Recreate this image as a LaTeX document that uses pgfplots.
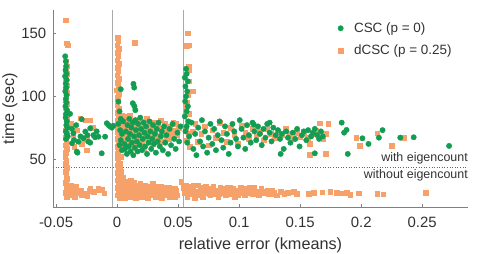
\documentclass[border=0pt]{standalone}
\usepackage{pgfplots}
\pgfplotsset{compat=1.18}
\usepackage{fontspec}
\setmainfont{Liberation Sans}
\definecolor{cscgreen}{RGB}{18,158,82}
\definecolor{dcscorange}{RGB}{246,161,105}
\definecolor{axgray}{RGB}{128,128,128}
\definecolor{txt}{RGB}{50,50,50}
\begin{document}
\begin{tikzpicture}
\begin{axis}[name=ax,
  scale only axis, width=415bp, height=197bp,
  xmin=-0.0525, xmax=0.2875, ymin=11.6, ymax=169,
  axis lines*=left,
  axis line style={axgray, line width=0.8bp},
  every tick/.style={axgray, line width=0.8bp},
  major tick length=3bp,
  tick align=inside,
  xtick={-0.05,0,0.05,0.1,0.15,0.2,0.25},
  ytick={50,100,150},
  scaled x ticks=false,
  /pgf/number format/assume math mode=true,
  xticklabel style={/pgf/number format/fixed, /pgf/number format/precision=2, anchor=base, yshift=-20bp, inner sep=0pt, font=\fontsize{15}{18}\selectfont, text=txt},
  yticklabel style={anchor=east, inner sep=0pt, xshift=-6.5bp, font=\fontsize{15}{18}\selectfont, text=txt},
  xlabel={relative error (kmeans)},
  ylabel={time (sec)},
  xlabel style={at={(rel axis cs:0.5,0)}, anchor=center, yshift=-38bp, font=\fontsize{16.3}{19}\selectfont, text=txt},
  ylabel style={at={(rel axis cs:0,0.5)}, anchor=center, yshift=43bp, font=\fontsize{16.3}{19}\selectfont, text=txt},
  legend style={at={(rel axis cs:0.679,0.957)}, anchor=north west, draw=none, fill=none, font=\fontsize{13.5}{16}\selectfont, text=txt, row sep=7bp, /tikz/every odd column/.append style={column sep=8.7bp}},
  legend cell align=left,
]
\addlegendimage{only marks, mark=*, mark size=2.7bp, cscgreen, mark options={draw=cscgreen, fill=cscgreen}}
\addlegendentry{CSC (p = 0)}
\addlegendimage{only marks, mark=square*, mark size=2.3bp, dcscorange, mark options={draw=dcscorange, fill=dcscorange}}
\addlegendentry{dCSC (p = 0.25)}

\addplot[forget plot, color={rgb,255:red,170;green,170;blue,170}, line width=0.9bp] coordinates {(-0.0035,11.6) (-0.0035,169)};
\addplot[forget plot, color={rgb,255:red,170;green,170;blue,170}, line width=0.9bp] coordinates {(0.054,11.6) (0.054,169)};
\addplot[forget plot, dotted, color=black!60, line width=0.6bp] coordinates {(-0.0525,43) (0.2875,43)};

% dCSC (p = 0.25)
\addplot[forget plot, only marks, mark=square*, mark size=2.3bp, color=dcscorange, mark options={draw=dcscorange, fill=dcscorange}] table {
x y
-0.0420 160.7
-0.0413 142.5
-0.0407 141
-0.0418 128
-0.0415 124
-0.0422 121
-0.0412 118
-0.0418 115
-0.0424 112
-0.0414 109
-0.0420 106
-0.0411 103
-0.0418 100
-0.0423 97
-0.0413 94
-0.0419 91
-0.0409 88
-0.0421 85
-0.0415 82
-0.0408 79
-0.0418 76
-0.0424 73
-0.0412 70
-0.0420 67
-0.0416 64
-0.0422 61
-0.0413 58
-0.0419 55
-0.0424 52
-0.0416 49
-0.0420 46
-0.0414 43
-0.0422 40
-0.0418 37
-0.0415 34
-0.0421 31
-0.0413 29
-0.0418 27
-0.0410 25
-0.0420 23
-0.0405 21
-0.0415 20
-0.0400 28
-0.0395 23
-0.0390 26
-0.0385 21
-0.0380 29
-0.0375 24
-0.0368 27
-0.0362 22
-0.0355 25
-0.0348 20
-0.0340 28
-0.0332 23
-0.0325 22.7
-0.0310 25
-0.0300 25
-0.0290 21
-0.0260 22.5
-0.0260 21.2
-0.0245 20.5
-0.0227 24.6
-0.0220 26.5
-0.0194 24
-0.0155 26.5
-0.0148 25.2
-0.0125 25.7
-0.0107 22.5
-0.0303 82.5
-0.0260 81
-0.0220 81
-0.0330 73
-0.0248 67
-0.0290 62
-0.0270 65
-0.0248 57
-0.0380 78
-0.0360 68
-0.0200 75
-0.0350 60
0.0005 147
0.0010 144
0.0000 141
0.0015 138
0.0005 135
0.0010 132
0.0000 129
0.0012 126
0.0004 123
0.0008 120
0.0000 117
0.0015 114
0.0005 111
0.0010 108
-0.0005 105
0.0012 102
0.0003 99
0.0008 96
0.0000 93
0.0015 90
0.0005 87
0.0010 84
0.0002 81
0.0012 78
0.0006 75
0.0000 72
0.0014 69
0.0004 66
0.0010 63
0.0002 60
0.0012 57
0.0006 54
0.0000 51
0.0010 48
0.0004 45
0.0014 42
0.0002 39
0.0010 36
0.0005 33
0.0015 30
0.0000 27
0.0010 24
0.0005 21
0.0020 19
0.0025 46
0.0030 40
0.0035 34
0.0040 30
0.0030 29
0.0045 32
0.0055 28
0.0065 30
0.0028 52
0.0032 60
0.0040 85
0.0050 83
0.0020 36
0.0025 33
0.0035 38
0.0022 42
0.0030 24
0.0040 20
0.0045 27
0.0055 22
0.0060 25
0.0068 19
0.0072 28
0.0080 23
0.0088 26
0.0095 21
0.0100 29
0.0108 24
0.0115 20
0.0122 27
0.0130 22
0.0138 31
0.0145 25
0.0152 19
0.0160 28
0.0168 23
0.0175 26
0.0182 21
0.0190 30
0.0198 24
0.0205 27
0.0212 20
0.0220 25
0.0228 29
0.0236 22
0.0245 26
0.0252 19
0.0260 24
0.0268 28
0.0276 21
0.0285 25
0.0293 30
0.0300 23
0.0310 27
0.0318 20
0.0326 24
0.0335 28
0.0345 22
0.0355 26
0.0365 19
0.0375 24
0.0385 21
0.0395 27
0.0405 23
0.0418 25
0.0430 20
0.0445 24
0.0460 22
0.0475 26
0.0490 21
0.0110 33
0.0070 32
0.0050 35
0.0035 27
0.0048 23
0.0058 30
0.0063 21
0.0076 25
0.0084 29
0.0092 24
0.0103 20
0.0112 27
0.0119 23
0.0126 30
0.0134 26
0.0141 21
0.0149 28
0.0156 23
0.0164 25
0.0171 20
0.0179 29
0.0186 26
0.0194 22
0.0201 28
0.0216 24
0.0224 21
0.0232 27
0.0241 23
0.0256 28
0.0264 22
0.0272 26
0.0281 23
0.0297 27
0.0305 21
0.0314 25
0.0330 22
0.0340 26
0.0350 23
0.0360 28
0.0370 22
0.0390 25
0.0410 21
0.0425 27
0.0440 22
0.0455 26
0.0470 20
0.0485 25
0.0040 78
0.0050 70
0.0060 82
0.0068 66
0.0075 74
0.0082 61
0.0090 79
0.0098 70
0.0105 85
0.0112 64
0.0120 76
0.0128 68
0.0135 59
0.0142 81
0.0150 72
0.0158 66
0.0165 78
0.0172 62
0.0180 74
0.0188 69
0.0195 80
0.0202 64
0.0210 73
0.0218 58
0.0226 76
0.0234 68
0.0242 82
0.0250 71
0.0260 65
0.0270 77
0.0280 70
0.0290 62
0.0300 79
0.0312 73
0.0322 67
0.0333 75
0.0345 69
0.0356 81
0.0368 64
0.0380 73
0.0392 78
0.0405 67
0.0418 72
0.0432 76
0.0446 68
0.0460 79
0.0475 73
0.0490 69
0.0505 75
0.0035 74
0.0045 66
0.0055 77
0.0062 70
0.0070 84
0.0078 68
0.0086 73
0.0094 65
0.0102 76
0.0110 71
0.0117 80
0.0125 63
0.0132 73
0.0140 67
0.0148 77
0.0155 62
0.0162 71
0.0170 68
0.0178 79
0.0185 64
0.0193 72
0.0200 69
0.0208 77
0.0215 66
0.0230 72
0.0246 67
0.0265 73
0.0285 68
0.0305 71
0.0325 64
0.0350 74
0.0375 69
0.0400 75
0.0425 66
0.0450 72
0.0480 78
0.0142 143
0.0577 150.5
0.0570 140.7
0.0590 141
0.0585 124
0.0590 121
0.0585 112
0.0620 104
0.0580 101
0.0570 95
0.0560 90
0.0590 86
0.0575 80
0.0565 75
0.0585 70
0.0570 65
0.0595 60
0.0525 32
0.0545 27
0.0555 23
0.0565 29
0.0575 20
0.0590 25
0.0600 28
0.0612 22
0.0625 26
0.0638 19
0.0650 24
0.0662 29
0.0675 22
0.0688 26
0.0700 20
0.0712 25
0.0725 28
0.0738 23
0.0750 26
0.0762 21
0.0775 24
0.0788 28
0.0800 22
0.0815 25
0.0830 20
0.0845 27
0.0860 23
0.0875 25
0.0890 21
0.0905 27
0.0920 24
0.0935 22
0.0950 26
0.0965 20
0.0980 25
0.1000 23
0.1015 27
0.1030 24
0.1045 21
0.1060 26
0.1075 23
0.1090 25
0.1110 22
0.1125 27
0.1140 24
0.1160 21
0.1180 26
0.1200 23
0.1215 24
0.1240 22
0.1265 25
0.1285 23
0.1310 21
0.1340 24
0.1370 22
0.1400 23
0.1445 24
0.1470 22
0.1570 22
0.1610 23
0.1680 23.5
0.1746 24
0.1800 23
0.1830 22.5
0.1880 23
0.1910 21.5
0.1980 22.5
0.2130 22
0.2180 21.8
0.2530 23
0.0560 26
0.0583 22
0.0605 25
0.0630 29
0.0656 21
0.0680 27
0.0705 23
0.0730 25
0.0755 22
0.0782 26
0.0808 24
0.0838 22
0.0868 26
0.0898 23
0.0928 27
0.0958 23
0.0990 21
0.1022 25
0.1052 23
0.1083 27
0.1118 24
0.1150 22
0.1190 24
0.1230 25
0.1275 22
0.0620 72
0.0640 78
0.0660 64
0.0690 70
0.0720 76
0.0750 61
0.0780 73
0.0810 67
0.0840 79
0.0870 71
0.0900 64
0.0930 75
0.0960 69
0.0990 62
0.1020 77
0.1050 71
0.1080 66
0.1110 74
0.1140 68
0.1170 72
0.1200 65
0.1230 74
0.1260 70
0.1290 67
0.1320 72
0.1350 69
0.1380 74
0.1410 70
0.1440 66
0.1470 71
0.1500 68
0.1530 72
0.1560 67
0.1580 62
0.1600 70
0.1630 73
0.1660 78.5
0.1690 66
0.1730 78
0.1710 70
0.1580 53.2
0.1710 54
0.1960 67
0.1990 60.4
0.2130 70.5
0.2250 60.7
0.2350 67
};

% CSC (p = 0)
\addplot[forget plot, only marks, mark=*, mark size=2.7bp, color=cscgreen, mark options={draw=cscgreen, fill=cscgreen}] table {
x y
-0.0425 132
-0.0420 128
-0.0418 124
-0.0422 121
-0.0415 118
-0.0426 116
-0.0412 113
-0.0420 110
-0.0417 107
-0.0424 104
-0.0414 101
-0.0420 98
-0.0416 95
-0.0423 92
-0.0410 89
-0.0418 86
-0.0421 83
-0.0412 80
-0.0416 77
-0.0407 75
-0.0420 72
-0.0413 70
-0.0404 68
-0.0418 66
-0.0385 86
-0.0370 74
-0.0352 65
-0.0370 62.5
-0.0358 70.5
-0.0330 55.8
-0.0325 55
-0.0317 63.8
-0.0290 81.7
-0.0276 66.5
-0.0260 71.9
-0.0243 69
-0.0235 63.8
-0.0220 74.5
-0.0220 63
-0.0194 69
-0.0180 67.3
-0.0167 72
-0.0153 67.8
-0.0126 54.5
-0.0098 67.8
-0.0084 78.5
-0.0070 77
-0.0057 76
-0.0043 75
-0.0030 76.5
-0.0335 77
-0.0300 68
0.0010 95.8
0.0030 105.7
0.0020 88
0.0030 82
0.0010 78
0.0025 73
0.0040 70
0.0030 65
0.0020 61
0.0040 57
0.0134 110
0.0140 107
0.0129 94.5
0.0142 92
0.0150 89
0.0050 80
0.0060 62
0.0065 58
0.0072 72
0.0080 54
0.0085 77
0.0090 66
0.0095 60
0.0100 82
0.0105 70
0.0110 56
0.0118 75
0.0122 63
0.0128 79
0.0133 53
0.0140 68
0.0146 59
0.0150 81
0.0155 73
0.0162 64
0.0168 56
0.0172 78
0.0180 69
0.0186 61
0.0190 83
0.0196 74
0.0204 57
0.0210 66
0.0218 79
0.0224 71
0.0230 60
0.0238 76
0.0245 54
0.0250 68
0.0258 63
0.0265 80
0.0272 72
0.0280 58
0.0288 66
0.0295 77
0.0302 62
0.0310 70
0.0318 55
0.0325 74
0.0332 64
0.0340 79
0.0350 60
0.0358 68
0.0366 72
0.0375 57
0.0385 76
0.0395 63
0.0405 69
0.0418 54
0.0430 74
0.0442 61
0.0455 78
0.0468 66
0.0480 58
0.0495 71
0.0508 64
0.0520 76
0.0565 122
0.0570 118
0.0555 115
0.0580 112
0.0560 108
0.0575 104
0.0565 100
0.0558 96
0.0580 92
0.0570 88
0.0555 84
0.0585 80
0.0570 76
0.0560 72
0.0590 68
0.0575 63
0.0610 79
0.0625 58
0.0640 70
0.0650 53
0.0665 75
0.0680 64
0.0695 81
0.0705 60
0.0720 72
0.0738 55
0.0750 67
0.0765 78
0.0780 62
0.0795 74
0.0810 57
0.0825 69
0.0840 80
0.0855 65
0.0870 59
0.0885 76
0.0900 70
0.0915 54
0.0930 63
0.0945 78
0.0960 72
0.0975 66
0.0990 60
0.1005 81
0.1020 74
0.1035 67
0.1050 58
0.1065 77
0.1080 69
0.1095 63
0.1110 79
0.1125 72
0.1140 65
0.1155 76
0.1170 70
0.1185 61
0.1200 74
0.1215 67
0.1230 78
0.1250 71
0.1265 64
0.1280 75
0.1300 69
0.1318 73
0.1335 66
0.1350 70
0.1365 58
0.1385 72
0.1400 67
0.1420 63
0.1440 71
0.1460 66
0.1475 74
0.1495 60
0.1515 69
0.1530 72
0.1550 65
0.1565 73
0.1590 68
0.1605 71
0.1620 74
0.1640 69
0.1655 66
0.1670 72
0.1685 68
0.1340 54
0.1620 54.5
0.1250 79
0.1120 77.5
0.1840 79
0.1880 73.2
0.1860 71
0.1890 54
0.2010 66.5
0.2060 62
0.2145 67
0.2175 73
0.2320 67
0.2430 67.3
0.2720 60.4
};

\node[anchor=east, inner sep=0pt, font=\fontsize{12.5}{15}\selectfont, text=txt] at (axis cs:0.2875,50.5) {with eigencount};
\node[anchor=east, inner sep=0pt, font=\fontsize{12.5}{15}\selectfont, text=txt] at (axis cs:0.2875,36.6) {without eigencount};
\end{axis}
\pgfresetboundingbox
\path ([shift={(-53bp,-47bp)}]ax.south west) rectangle ([shift={(10bp,10bp)}]ax.north east);
\end{tikzpicture}
\end{document}
